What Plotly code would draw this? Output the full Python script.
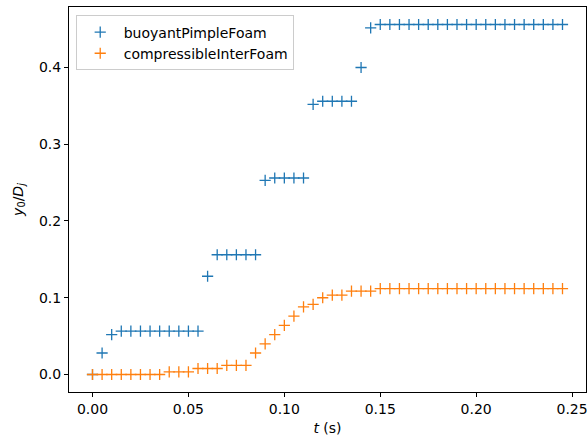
import plotly.graph_objects as go

t = [round(0.005 * i, 3) for i in range(50)]

buoyant = [0.0, 0.028, 0.052] + [0.0564] * 9 + [0.128] + [0.156] * 5 + [0.2528] + [0.256] * 4 + \
          [0.352] + [0.356] * 4 + [0.400, 0.4517] + [0.456] * 20

compressible = [0.0] * 8 + [0.0035] * 3 + [0.0078] * 3 + [0.012] * 3 + \
               [0.028, 0.040, 0.052, 0.064, 0.076, 0.088, 0.0914, 0.100, 0.1033, 0.1033] + \
               [0.1086] * 3 + [0.112] * 20

names = ["buoyantPimpleFoam", "compressibleInterFoam"]
colors = ["#1f77b4", "#ff7f0e"]

fig = go.Figure()
for name, ys, c in zip(names, [buoyant, compressible], colors):
    fig.add_trace(go.Scatter(
        x=t, y=ys, mode="markers", name=name,
        marker=dict(symbol="cross-thin-open", size=8, color=c,
                    line=dict(width=1.3, color=c)),
    ))

font = "DejaVu Sans"
axis_common = dict(
    showline=True, linecolor="black", linewidth=1, mirror=True,
    ticks="outside", ticklen=4, tickwidth=1, tickcolor="black",
    showgrid=False, zeroline=False, automargin=False,
    ticklabeloverflow="allow",
    tickfont=dict(family=font, size=14, color="black"),
)

fig.update_layout(
    width=587, height=439,
    margin=dict(l=69, r=1, t=7, b=47),
    plot_bgcolor="white", paper_bgcolor="white",
    font=dict(family=font, size=14, color="black"),
    showlegend=True,
    legend=dict(x=0.013, y=0.978, xanchor="left", yanchor="top",
                bordercolor="#cccccc", borderwidth=1, bgcolor="rgba(255,255,255,0.8)",
                font=dict(family=font, size=14), tracegroupgap=0, itemwidth=37),
    xaxis=dict(range=[-0.01225, 0.25725], tickvals=[0, 0.05, 0.1, 0.15, 0.2, 0.25],
               tickformat=".2f",
               title=dict(text="<i>t</i> (s)", standoff=7,
                          font=dict(family=font, size=14)),
               **axis_common),
    yaxis=dict(range=[-0.0228, 0.4788], tickvals=[0, 0.1, 0.2, 0.3, 0.4],
               tickformat=".1f",
               title=dict(text="<i>y</i><sub>0</sub>/<i>D</i><sub><i>j</i></sub>", standoff=12,
                          font=dict(family=font, size=14)),
               **axis_common),
)

# remove the default page margin so the figure fills the 587x439 window exactly
fig.write_html(
    "out.html",
    config={"displayModeBar": False},
    post_script="document.documentElement.style.overflow='hidden';document.body.style.margin='0';document.body.style.overflow='hidden';",
)
